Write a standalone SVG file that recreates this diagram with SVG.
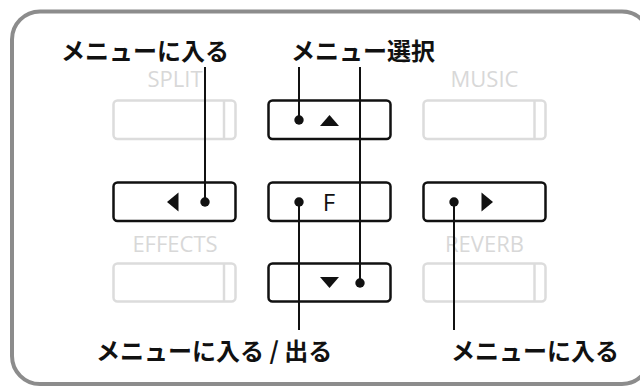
<svg xmlns="http://www.w3.org/2000/svg" width="640" height="387" viewBox="0 0 640 387">
<style>
.frame{fill:#fff;stroke:#8c8c8c;stroke-width:4}
.btn{fill:#fff;stroke:#111;stroke-width:2.5}
.off{fill:#fff;stroke:#dcdcdc;stroke-width:2.5}
.offdiv{stroke:#dcdcdc;stroke-width:2.5}
.cap{font-family:"Open Sans","Noto Sans",sans-serif;font-size:22px;fill:#d8d8d8;text-anchor:middle}
.jp{font-family:"Noto Sans CJK JP","Noto Sans",sans-serif;font-size:24px;font-weight:bold;fill:#111}
.ln{stroke:#111;stroke-width:2;fill:none}
.dot{fill:#111}
.tri{fill:#111}
</style>
<rect class="frame" x="12" y="11.5" width="638" height="372.5" rx="28"/>

<g id="split">
<text class="cap" x="175" y="87">SPLIT</text>
<rect class="off" x="113.5" y="100.5" width="122" height="38.5" rx="4"/>
<line class="offdiv" x1="224" y1="101" x2="224" y2="138.5"/>
</g>
<g id="music">
<text class="cap" x="484.5" y="87">MUSIC</text>
<rect class="off" x="423.5" y="100.5" width="122" height="38.5" rx="4"/>
<line class="offdiv" x1="534.5" y1="101" x2="534.5" y2="138.5"/>
</g>
<g id="effects">
<text class="cap" x="175" y="251.5">EFFECTS</text>
<rect class="off" x="113.5" y="263.5" width="122" height="38" rx="4"/>
<line class="offdiv" x1="224" y1="264" x2="224" y2="301"/>
</g>
<g id="reverb">
<text class="cap" x="484.5" y="251.5">REVERB</text>
<rect class="off" x="423.5" y="263.5" width="122" height="38" rx="4"/>
<line class="offdiv" x1="534.5" y1="264" x2="534.5" y2="301"/>
</g>

<g id="btn-up">
<rect class="btn" x="268.5" y="100.5" width="122" height="38.5" rx="4"/>
<polygon class="tri" points="320,126 339,126 329.5,115"/>
</g>
<g id="btn-left">
<rect class="btn" x="113.5" y="182.5" width="122" height="38.5" rx="4"/>
<polygon class="tri" points="167,202 178.5,192.5 178.5,211.5"/>
</g>
<g id="btn-f">
<rect class="btn" x="268.5" y="182.5" width="122" height="38.5" rx="4"/>
<text x="329" y="211" font-family="'Open Sans','Noto Sans',sans-serif" font-size="24" fill="#111" text-anchor="middle">F</text>
</g>
<g id="btn-right">
<rect class="btn" x="423.5" y="182.5" width="122" height="38.5" rx="4"/>
<polygon class="tri" points="493,202 481.5,192.5 481.5,211.5"/>
</g>
<g id="btn-down">
<rect class="btn" x="268.5" y="263.5" width="122" height="38" rx="4"/>
<polygon class="tri" points="320,277 339,277 329.5,288"/>
</g>

<g id="label-enter-left"><text class="jp" x="61" y="59.5">メニューに入る</text></g>
<g id="label-select"><text class="jp" x="291" y="59.5">メニュー選択</text></g>
<g id="label-enter-exit"><text class="jp" x="96" y="360">メニューに入る / 出る</text></g>
<g id="label-enter-right"><text class="jp" x="451" y="360">メニューに入る</text></g>

<g id="connectors">
<line class="ln" x1="205" y1="67" x2="205" y2="202"/>
<circle class="dot" cx="205" cy="202" r="4.7"/>
<line class="ln" x1="299" y1="67" x2="299" y2="120"/>
<circle class="dot" cx="299" cy="120" r="4.7"/>
<line class="ln" x1="360" y1="67" x2="360" y2="283"/>
<circle class="dot" cx="360" cy="283" r="4.7"/>
<line class="ln" x1="299" y1="202" x2="299" y2="330"/>
<circle class="dot" cx="299" cy="202" r="4.7"/>
<line class="ln" x1="454" y1="202" x2="454" y2="330"/>
<circle class="dot" cx="454" cy="202" r="4.7"/>
</g>
</svg>
